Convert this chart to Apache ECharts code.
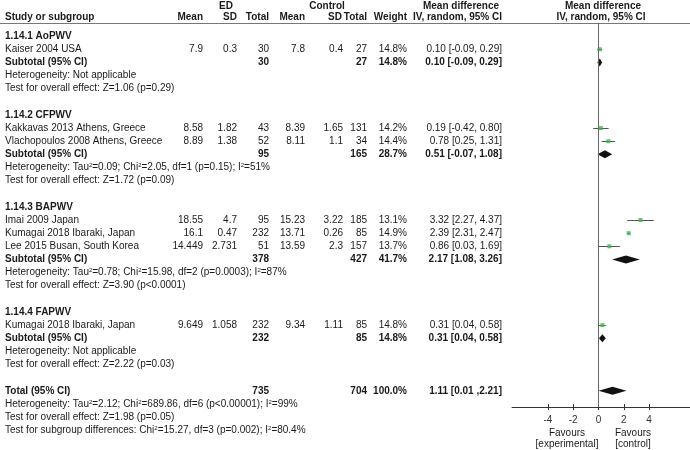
<!DOCTYPE html>
<html>
<head>
<meta charset="utf-8">
<script src="https://cdn.jsdelivr.net/npm/echarts@6/dist/echarts.min.js"></script>
<style>
html, body { margin: 0; padding: 0; background: #fff; }
#chart { width: 690px; height: 450px; }
</style>
</head>
<body>
<div id="chart"></div>
<script>
// study rows
const studyNames = ['Kaiser 2004 USA', 'Kakkavas 2013 Athens, Greece', 'Vlachopoulos 2008 Athens, Greece',
  'Imai 2009 Japan', 'Kumagai 2018 Ibaraki, Japan', 'Lee 2015 Busan, South Korea', 'Kumagai 2018 Ibaraki, Japan']
const studyRows = [1, 7, 8, 14, 15, 16, 22]
const edMean = ['7.9', '8.58', '8.89', '18.55', '16.1', '14.449', '9.649']
const edSD = ['0.3', '1.82', '1.38', '4.7', '0.47', '2.731', '1.058']
const edTotal = ['30', '43', '52', '95', '232', '51', '232']
const ctlMean = ['7.8', '8.39', '8.11', '15.23', '13.71', '13.59', '9.34']
const ctlSD = ['0.4', '1.65', '1.1', '3.22', '0.26', '2.3', '1.11']
const ctlTotal = ['27', '131', '34', '185', '85', '157', '85']
const studyWeight = ['14.8%', '14.2%', '14.4%', '13.1%', '14.9%', '13.7%', '14.8%']
const studyMd = [0.10, 0.19, 0.78, 3.32, 2.39, 0.86, 0.31]
const studyLow = [-0.09, -0.42, 0.25, 2.27, 2.31, 0.03, 0.04]
const studyHigh = [0.29, 0.80, 1.31, 4.37, 2.47, 1.69, 0.58]
const studyCiText = ['0.10 [-0.09, 0.29]', '0.19 [-0.42, 0.80]', '0.78 [0.25, 1.31]', '3.32 [2.27, 4.37]',
  '2.39 [2.31, 2.47]', '0.86 [0.03, 1.69]', '0.31 [0.04, 0.58]']

// pooled rows (subtotals + total)
const pooledLabels = ['Subtotal (95% CI)', 'Subtotal (95% CI)', 'Subtotal (95% CI)', 'Subtotal (95% CI)', 'Total (95% CI)']
const pooledRows = [2, 9, 17, 23, 27]
const pooledEd = ['30', '95', '378', '232', '735']
const pooledCtl = ['27', '165', '427', '85', '704']
const pooledWeight = ['14.8%', '28.7%', '41.7%', '14.8%', '100.0%']
const pooledMd = [0.10, 0.51, 2.17, 0.31, 1.11]
const pooledLow = [-0.09, -0.07, 1.08, 0.04, 0.01]
const pooledHigh = [0.29, 1.08, 3.26, 0.58, 2.21]
const pooledCiText = ['0.10 [-0.09, 0.29]', '0.51 [-0.07, 1.08]', '2.17 [1.08, 3.26]', '0.31 [0.04, 0.58]', '1.11 [0.01 ,2.21]']

// group headings and notes
const groupNames = ['1.14.1 AoPWV', '1.14.2 CFPWV', '1.14.3 BAPWV', '1.14.4 FAPWV']
const groupRows = [0, 6, 13, 21]
const noteRows = [3, 4, 10, 11, 18, 19, 24, 25, 28, 29, 30]
const noteTexts = [
  'Heterogeneity: Not applicable',
  'Test for overall effect: Z=1.06 (p=0.29)',
  'Heterogeneity: Tau{s|2}=0.09; Chi{s|2}=2.05, df=1 (p=0.15); I{s|2}=51%',
  'Test for overall effect: Z=1.72 (p=0.09)',
  'Heterogeneity: Tau{s|2}=0.78; Chi{s|2}=15.98, df=2 (p=0.0003); I{s|2}=87%',
  'Test for overall effect: Z=3.90 (p<0.0001)',
  'Heterogeneity: Not applicable',
  'Test for overall effect: Z=2.22 (p=0.03)',
  'Heterogeneity: Tau{s|2}=2.12; Chi{s|2}=689.86, df=6 (p<0.00001); I{s|2}=99%',
  'Test for overall effect: Z=1.98 (p=0.05)',
  'Test for subgroup differences: Chi{s|2}=15.27, df=3 (p=0.002); I{s|2}=80.4%'
]
const tickValues = [-4, -2, 0, 2, 4]

const FONT = '"Liberation Sans", Arial, sans-serif'
const TXT = '#1a1a1a'

const chart = echarts.init(document.getElementById('chart'))

chart.setOption({
  backgroundColor: '#fff',
  animation: false,
  grid: { left: 512, right: 0, top: 23, bottom: 43 },
  xAxis: [
    {
      type: 'value',
      position: 'bottom',
      min: -6.83,
      max: 7.23,
      axisLine: { onZero: false, lineStyle: { color: '#333', width: 1 } },
      axisTick: { customValues: tickValues, length: 3, lineStyle: { color: '#333' } },
      axisLabel: { customValues: tickValues, fontSize: 10, fontFamily: FONT, color: '#333', margin: 8 },
      splitLine: { show: false }
    },
    {
      // second copy only for the upward half of the ticks
      type: 'value',
      position: 'bottom',
      min: -6.83,
      max: 7.23,
      axisLine: { show: false, onZero: false },
      axisTick: { inside: true, customValues: tickValues, length: 3, lineStyle: { color: '#333' } },
      axisLabel: { show: false },
      splitLine: { show: false }
    }
  ],
  yAxis: { type: 'value', inverse: true, min: -1, max: 28.23, show: false },
  series: [
    {
      // confidence intervals of single studies
      type: 'custom',
      encode: { x: [0, 1], y: 2 },
      data: studyRows.map((r, i) => [studyLow[i], studyHigh[i], r]),
      renderItem(params, api) {
        const a = api.coord([api.value(0), api.value(2)])
        const b = api.coord([api.value(1), api.value(2)])
        const y = Math.round(a[1]) + 0.5
        return {
          type: 'line',
          shape: { x1: a[0], y1: y, x2: b[0], y2: y },
          style: { stroke: '#555', lineWidth: 1 }
        }
      },
      markLine: {
        silent: true,
        symbol: 'none',
        label: { show: false },
        lineStyle: { color: '#666', width: 1, type: 'solid' },
        data: [{ xAxis: 0 }]
      },
      z: 2
    },
    {
      type: 'scatter',
      symbol: 'rect',
      symbolSize: 4,
      itemStyle: { color: '#3cb44a' },
      data: studyRows.map((r, i) => [studyMd[i], r]),
      z: 3
    },
    {
      // pooled diamonds
      type: 'custom',
      encode: { x: [0, 2], y: 3 },
      data: pooledRows.map((r, i) => [pooledLow[i], pooledMd[i], pooledHigh[i], r]),
      renderItem(params, api) {
        const lo = api.coord([api.value(0), api.value(3)])
        const md = api.coord([api.value(1), api.value(3)])
        const hi = api.coord([api.value(2), api.value(3)])
        const h = 4
        return {
          type: 'polygon',
          shape: { points: [[lo[0], lo[1]], [md[0], md[1] - h], [hi[0], hi[1]], [md[0], md[1] + h]] },
          style: { fill: '#111' }
        }
      },
      z: 3
    }
  ]
})

// table text, placed on the same row scale as the plot
const rowY = r => chart.convertToPixel({ yAxisIndex: 0 }, r)

function txt(x, y, text, align, bold, rich) {
  const el = {
    type: 'text',
    x: x,
    y: y,
    silent: true,
    style: {
      text: text,
      align: align || 'left',
      verticalAlign: 'middle',
      fill: TXT,
      fontSize: 10,
      fontFamily: FONT,
      fontWeight: bold ? 'bold' : 'normal'
    }
  }
  if (rich) {
    el.style.rich = { s: { fontSize: 6, fontFamily: FONT, fill: TXT, verticalAlign: 'top', padding: [0, 0, 4, 0] } }
  }
  return el
}

const col = { name: 5, edMean: 203, edSD: 237, edTotal: 269, cMean: 305, cSD: 343, cTotal: 367, weight: 407, ci: 502 }
const g = []

// headers
g.push(txt(226, 6, 'ED', 'center', true))
g.push(txt(327, 6, 'Control', 'center', true))
g.push(txt(461, 6, 'Mean difference', 'center', true))
g.push(txt(603, 6, 'Mean difference', 'center', true))
g.push(txt(col.name, 17, 'Study or subgroup', 'left', true))
g.push(txt(col.edMean, 17, 'Mean', 'right', true))
g.push(txt(col.edSD, 17, 'SD', 'right', true))
g.push(txt(col.edTotal, 17, 'Total', 'right', true))
g.push(txt(col.cMean, 17, 'Mean', 'right', true))
g.push(txt(col.cSD - 1, 17, 'SD', 'right', true))
g.push(txt(col.cTotal, 17, 'Total', 'right', true))
g.push(txt(col.weight, 17, 'Weight', 'right', true))
g.push(txt(col.ci, 17, 'IV, random, 95% CI', 'right', true))
g.push(txt(601, 17, 'IV, random, 95% CI', 'center', true))
g.push({
  type: 'line', silent: true,
  shape: { x1: 0, y1: 23.5, x2: 690, y2: 23.5 },
  style: { stroke: '#777', lineWidth: 1 }
})

groupRows.forEach((r, i) => g.push(txt(col.name, rowY(r), groupNames[i], 'left', true)))

studyRows.forEach((r, i) => {
  const y = rowY(r)
  g.push(txt(col.name, y, studyNames[i], 'left'))
  g.push(txt(col.edMean, y, edMean[i], 'right'))
  g.push(txt(col.edSD, y, edSD[i], 'right'))
  g.push(txt(col.edTotal, y, edTotal[i], 'right'))
  g.push(txt(col.cMean, y, ctlMean[i], 'right'))
  g.push(txt(col.cSD, y, ctlSD[i], 'right'))
  g.push(txt(col.cTotal, y, ctlTotal[i], 'right'))
  g.push(txt(col.weight, y, studyWeight[i], 'right'))
  g.push(txt(col.ci, y, studyCiText[i], 'right'))
})

pooledRows.forEach((r, i) => {
  const y = rowY(r)
  g.push(txt(col.name, y, pooledLabels[i], 'left', true))
  g.push(txt(col.edTotal, y, pooledEd[i], 'right', true))
  g.push(txt(col.cTotal, y, pooledCtl[i], 'right', true))
  g.push(txt(col.weight, y, pooledWeight[i], 'right', true))
  g.push(txt(col.ci, y, pooledCiText[i], 'right', true))
})

noteRows.forEach((r, i) => g.push(txt(col.name, rowY(r), noteTexts[i], 'left', false, true)))

// favours labels under the axis
g.push(txt(567, 433, 'Favours', 'center'))
g.push(txt(567, 444, '[experimental]', 'center'))
g.push(txt(633, 433, 'Favours', 'center'))
g.push(txt(633, 444, '[control]', 'center'))

chart.setOption({ graphic: g })
</script>
</body>
</html>
